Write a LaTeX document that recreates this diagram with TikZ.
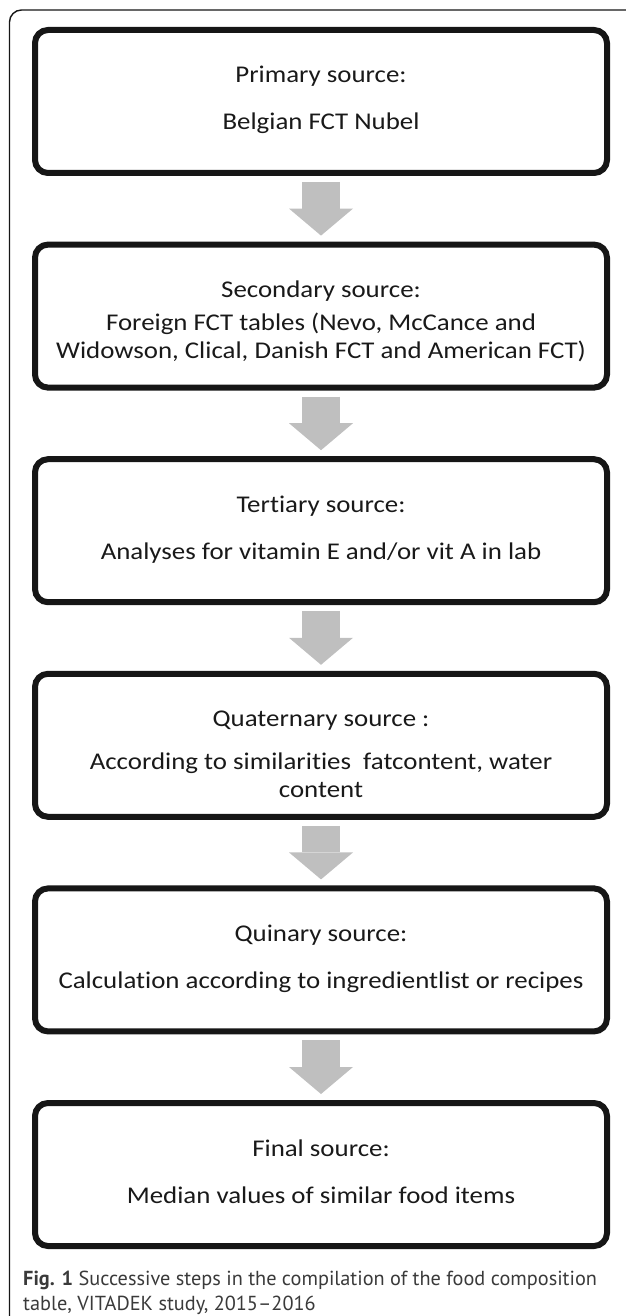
\documentclass[tikz,border=0pt]{standalone}
\usepackage{fontspec}
\setmainfont{Carlito}[FakeStretch=1.12, Ligatures={NoCommon}]
\newfontfamily\capfont{PT Sans}
\usetikzlibrary{calc,arrows.meta}
\definecolor{boxline}{HTML}{161616}
\definecolor{arrowgray}{HTML}{BFBFBF}
\definecolor{captext}{HTML}{3A3A3A}
\tikzset{
 stepbox/.style={draw=boxline, line width=6pt, rounded corners=13pt, minimum width=572pt, minimum height=143pt, inner sep=0pt},
 boxtitle/.style={font=\fontsize{24}{27.5}\selectfont, anchor=base, inner sep=0pt, text=black!90},
 boxbody/.style={font=\fontsize{24}{27.5}\selectfont, align=center, anchor=base, inner sep=0pt, text=black!90},
 blockarrow/.style={draw=arrowgray, line width=38pt, -{Triangle[width=64pt, length=27pt, line width=0pt, fill=arrowgray]}},
 frame/.style={draw=boxline, line width=1.4pt}
}
\begin{document}
\begin{tikzpicture}[x=1pt, y=-1pt]
\useasboundingbox (0,0) rectangle (625,1316);
\draw[frame] (9.5,1320) -- (9.5,22) arc[start angle=180, end angle=270, radius=12] -- (626,10);
% boxes
\foreach \i/\t in {1/30, 2/244.6, 3/459.2, 4/673.8, 5/888.4, 6/1103} {
  \node[stepbox] (b\i) at (321,\t+71.5) {};
}
% texts
\node[boxtitle] (t1) at ($(b1.north)+(0,56)$) {Primary source:};
\node[boxbody] (d1) at ($(b1.north)+(0,103)$) {Belgian FCT Nubel};
\node[boxtitle] (t2) at ($(b2.north)+(0,56)$) {Secondary source:};
\node[boxbody] (d2) at ($(b2.north)+(0,116.5)$) {Foreign FCT tables (Nevo, McCance and\\Widowson, Clical, Danish FCT and American FCT)};
\node[boxtitle] (t3) at ($(b3.north)+(0,56)$) {Tertiary source:};
\node[boxbody] (d3) at ($(b3.north)+(0,103)$) {Analyses for vitamin E and/or vit A in lab};
\node[boxtitle] (t4) at ($(b4.north)+(0,56)$) {Quaternary source :};
\node[boxbody] (d4) at ($(b4.north)+(0,126.5)$) {According to similarities\ \ fatcontent, water\\content};
\node[boxtitle] (t5) at ($(b5.north)+(0,56)$) {Quinary source:};
\node[boxbody] (d5) at ($(b5.north)+(0,103)$) {Calculation according to ingredientlist or recipes};
\node[boxtitle] (t6) at ($(b6.north)+(0,56)$) {Final source:};
\node[boxbody] (d6) at ($(b6.north)+(0,103)$) {Median values of similar food items};
% arrows
\foreach \a/\b in {1/2,2/3,3/4,4/5,5/6} {
  \draw[blockarrow] ($(b\a.south)+(0,6)$) -- ($(b\b.north)+(0,-6)$);
}
% caption
\node[anchor=base west, align=left, inner sep=0pt, text=captext,
      font=\capfont\fontsize{20.3}{25}\selectfont] (cap) at (23,1310)
  {\textbf{Fig. 1} Successive steps in the compilation of the food composition\\table, VITADEK study, 2015–2016};
\end{tikzpicture}
\end{document}
